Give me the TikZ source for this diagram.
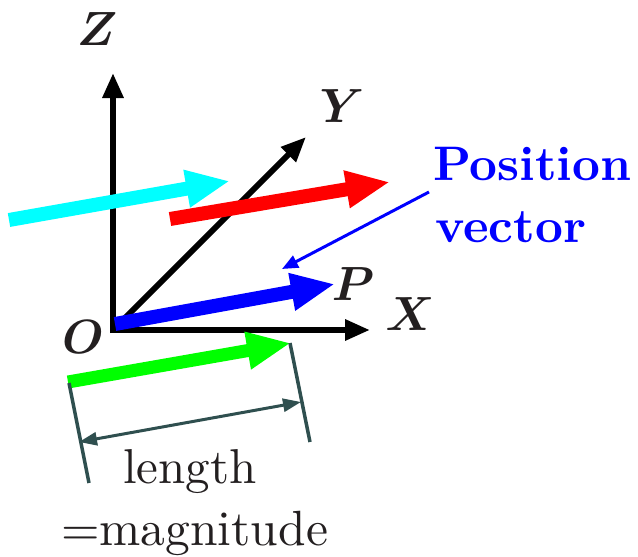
\documentclass[tikz,border=0pt]{standalone}
\usepackage{fix-cm}
\usepackage{amsmath}
\usepackage{graphicx}
\usetikzlibrary{arrows.meta}
\definecolor{dimgray}{RGB}{47,79,79}
\definecolor{aqua}{RGB}{0,255,255}
\definecolor{lime}{RGB}{0,255,0}
\definecolor{ink}{RGB}{35,31,32}
\tikzset{
  axis/.style={line width=6pt, -{Triangle[length=25pt,width=20pt]}},
  vec/.style={line width=14pt, -{Triangle[length=44pt,width=35pt]}},
  thinarrow/.style={line width=3pt, -{Triangle[length=16pt,width=13pt]}},
  dimline/.style={line width=3.5pt, draw=dimgray},
  dimarrow/.style={line width=3pt, draw=dimgray, {Triangle[length=18pt,width=13pt]}-{Triangle[length=18pt,width=13pt]}},
  lbl/.style={inner sep=0pt, font=\fontsize{48}{58}\selectfont},
  txt/.style={inner sep=0pt, anchor=base west, font=\normalsize},
}
\begin{document}
\begin{tikzpicture}[x=1pt,y=-1pt]
\useasboundingbox (0,0) rectangle (638,557);
% coordinates
\coordinate (zs) at (113,333);
\coordinate (ze) at (113,73);
\coordinate (xs) at (110,330);
\coordinate (xe) at (370,330);
\coordinate (ys) at (113,330);
\coordinate (ye) at (306,137);
\coordinate (cs) at (9,220);
\coordinate (ce) at (230,181);
\coordinate (rs) at (170,219);
\coordinate (re) at (390,182);
\coordinate (bs) at (115,324);
\coordinate (be) at (335,284);
\coordinate (gs) at (68,382);
\coordinate (ge) at (291,343);
\coordinate (ps) at (429,192);
\coordinate (pe) at (282,269);
\coordinate (l1) at (69,383);
\coordinate (l2) at (89,483);
\coordinate (r1) at (290,343);
\coordinate (r2) at (310,442);
\coordinate (d1) at (79,442);
\coordinate (d2) at (301,402);
% axes
\draw[axis] (zs) -- (ze);
\draw[axis] (xs) -- (xe);
\draw[axis] (ys) -- (ye);
% vectors
\draw[vec, draw=aqua, fill=aqua] (cs) -- (ce);
\draw[vec, draw=red, fill=red] (rs) -- (re);
\draw[vec, draw=blue, fill=blue] (bs) -- (be);
\draw[vec, line width=13pt, draw=lime, fill=lime] (gs) -- (ge);
\draw[thinarrow, draw=blue, fill=blue] (ps) -- (pe);
% dimension
\draw[dimline] (l1) -- (l2);
\draw[dimline] (r1) -- (r2);
\draw[dimarrow, fill=dimgray] (d1) -- (d2);
% labels
\node[lbl, anchor=base, text=ink] (Z) at (97,45) {$\boldsymbol{Z}$};
\node[lbl, anchor=base, text=ink] (Y) at (342,122) {$\boldsymbol{Y}$};
\node[lbl, anchor=base, text=ink] (X) at (410,330) {$\boldsymbol{X}$};
\node[lbl, anchor=base, text=ink] (P) at (353,300) {$\boldsymbol{P}$};
\node[lbl, anchor=base, text=ink] (O) at (83,353) {$\boldsymbol{O}$};
\node[txt, text=blue] (pos) at (433,180) {\scalebox{4.85}{\bfseries Position}};
\node[txt, text=blue] (vecl) at (435,242) {\scalebox{4.85}{\bfseries vector}};
\node[txt, text=ink] (len) at (123,483) {\scalebox{4.9}{length}};
\node[txt, text=ink] (mag) at (61,545) {\scalebox{4.95}{=magnitude}};
\end{tikzpicture}
\end{document}
